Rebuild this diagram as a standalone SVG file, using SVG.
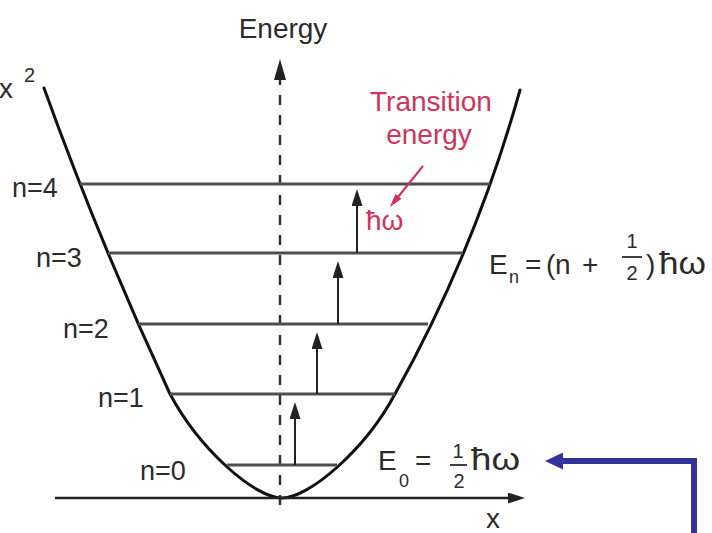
<svg xmlns="http://www.w3.org/2000/svg" width="712" height="533" viewBox="0 0 712 533">
<style>
text{font-family:"Liberation Sans",Arial,Helvetica,sans-serif;fill:#2b2b2b}
.big{font-size:28px}
.hw{font-size:31px}
.nl{font-size:27px}
.sub{font-size:18px}
.frac{font-size:20px}
.red{fill:#d0345a}
.lvl{stroke:#4e4e4e;stroke-width:3;fill:none}
.curve{stroke:#111;stroke-width:3;fill:none;stroke-linecap:round}
.tr{stroke:#222;stroke-width:2;fill:none;marker-end:url(#hb)}
.bar{stroke:#2b2b2b;stroke-width:1.8}
</style>
<defs>
<marker id="hb" markerUnits="userSpaceOnUse" markerWidth="17" markerHeight="11" refX="1" refY="5.5" orient="auto"><path d="M0,0 L17,5.5 L0,11 z" fill="#222"/></marker>
<marker id="hax" markerUnits="userSpaceOnUse" markerWidth="21" markerHeight="12" refX="1" refY="6" orient="auto"><path d="M0,0 L21,6 L0,12 z" fill="#222"/></marker>
<marker id="hred" markerUnits="userSpaceOnUse" markerWidth="14" markerHeight="8" refX="1" refY="4" orient="auto"><path d="M0,0 L14,4 L0,8 z" fill="#d0345a"/></marker>
<marker id="hblue" markerUnits="userSpaceOnUse" markerWidth="18" markerHeight="17" refX="1" refY="8.5" orient="auto"><path d="M0,0 L18,8.5 L0,17 z" fill="#333399"/></marker>
</defs>
<rect width="712" height="533" fill="#fff"/>

<g id="potential">
<path class="curve" d="M44,88 C80.7,190 122.7,292 170,394 C200,450 255,498 282,498 C309,498 365,450 395,394 C448.7,297.7 490.3,196.3 520,90"/>
<text class="big" x="-1" y="98">x</text>
<text class="frac" x="24" y="82">2</text>
</g>

<g id="energy-axis">
<line x1="280" y1="505" x2="280" y2="79" stroke="#333" stroke-width="2.5" stroke-dasharray="10,10" marker-end="url(#hax)"/>
<text class="big" x="283" y="38" text-anchor="middle">Energy</text>
</g>

<g id="x-axis">
<line x1="55" y1="498" x2="509" y2="498" stroke="#222" stroke-width="2.5" marker-end="url(#hb)"/>
<text class="big" x="486" y="528">x</text>
</g>

<g id="level-n4">
<line class="lvl" x1="80" y1="184" x2="490" y2="184"/>
<text class="nl" x="12" y="197">n=4</text>
</g>
<g id="level-n3">
<line class="lvl" x1="108" y1="253" x2="463" y2="253"/>
<text class="nl" x="36" y="267">n=3</text>
</g>
<g id="level-n2">
<line class="lvl" x1="138" y1="324" x2="428" y2="324"/>
<text class="nl" x="63" y="338">n=2</text>
</g>
<g id="level-n1">
<line class="lvl" x1="170" y1="394" x2="395" y2="394"/>
<text class="nl" x="98" y="407">n=1</text>
</g>
<g id="level-n0">
<line class="lvl" x1="227" y1="465" x2="337" y2="465"/>
<text class="nl" x="140" y="480">n=0</text>
</g>

<g id="transition-label">
<text class="big red" x="431" y="111" text-anchor="middle">Transition</text>
<text class="big red" x="429" y="144" text-anchor="middle">energy</text>
<text class="big red" x="366" y="230">ħω</text>
</g>

<g id="formula-En">
<text class="big" x="489" y="274">E</text>
<text class="sub" x="509" y="283">n</text>
<text class="big" x="525" y="274">=</text>
<text class="big" x="546" y="274">(</text>
<text class="big" x="555" y="274">n</text>
<text class="big" x="582" y="274">+</text>
<text class="frac" x="632" y="248" text-anchor="middle">1</text>
<line class="bar" x1="622" y1="257" x2="642" y2="257"/>
<text class="frac" x="632" y="280" text-anchor="middle">2</text>
<text class="big" x="646" y="274">)</text>
<text class="hw" x="659" y="274" textLength="47" lengthAdjust="spacingAndGlyphs">ħω</text>
</g>

<g id="formula-E0">
<text class="big" x="378" y="470">E</text>
<text class="sub" x="399" y="487">0</text>
<text class="big" x="415" y="470">=</text>
<text class="frac" x="458" y="458" text-anchor="middle">1</text>
<line class="bar" x1="450" y1="465" x2="467" y2="465"/>
<text class="frac" x="459" y="488" text-anchor="middle">2</text>
<text class="hw" x="471" y="470" textLength="49" lengthAdjust="spacingAndGlyphs">ħω</text>
</g>

<g id="connectors">
<line class="tr" x1="295" y1="465" x2="295" y2="418"/>
<line class="tr" x1="317" y1="394" x2="317" y2="348"/>
<line class="tr" x1="338" y1="324" x2="338" y2="277"/>
<line class="tr" x1="357" y1="253" x2="357" y2="205"/>
<line x1="423" y1="166" x2="398" y2="197" stroke="#d0345a" stroke-width="2" marker-end="url(#hred)"/>
<path d="M694,533 V461 H562" fill="none" stroke="#333399" stroke-width="6" marker-end="url(#hblue)"/>
</g>
</svg>
